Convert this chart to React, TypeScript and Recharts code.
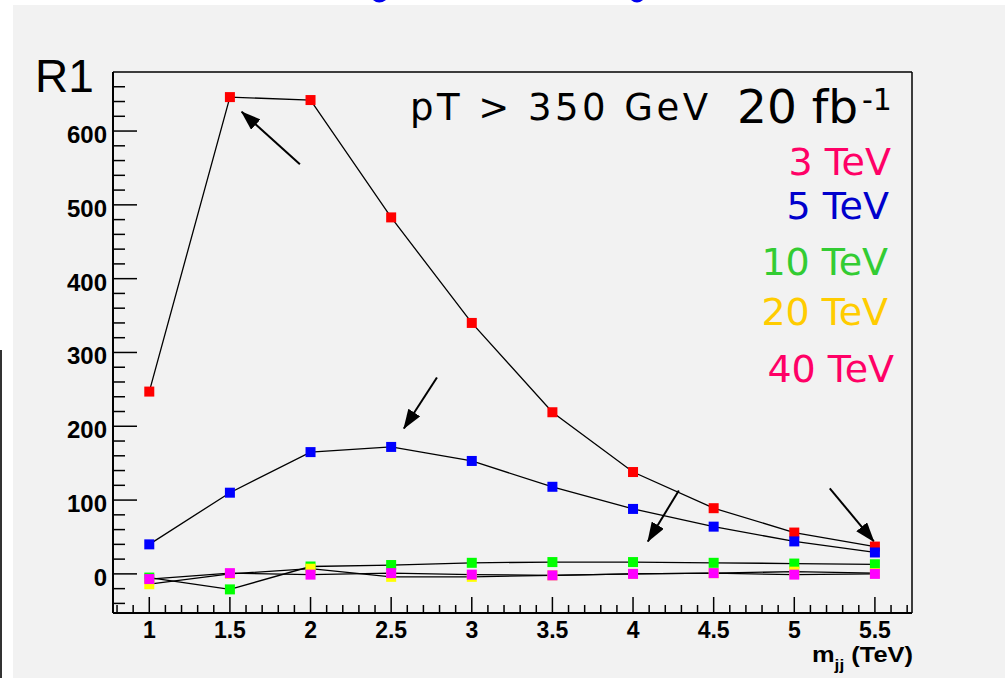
import React from 'react';
import { LineChart, Line, XAxis, YAxis, ReferenceLine } from 'recharts';

// ---- data ----
const xValues = [1, 1.5, 2, 2.5, 3, 3.5, 4, 4.5, 5, 5.5];
const tev3 = [247, 646, 642, 483, 340, 219, 138, 89, 56, 37];
const tev5 = [40, 110, 165, 172, 153, 118, 88, 64, 44, 29];
const tev10 = [-5, -21, 10, 12, 15, 16, 16, 15, 14, 13];
const tev20 = [-14, 0, 7, -4, -4, -2, 0, 1, 3, 1];
const tev40 = [-7, 1, -1, 1, -1, -2, 0, 1, -1, 0];

const seriesNames = ['3 TeV', '5 TeV', '10 TeV', '20 TeV', '40 TeV'];
const markerColors = ['#ff0000', '#0000ff', '#00ff00', '#ffff00', '#ff00ff'];
const legendColors = ['#ff0066', '#0000cc', '#33cc33', '#ffcc00', '#ff0066'];

// ---- ticks ----
const xMajorTicks = [1, 1.5, 2, 2.5, 3, 3.5, 4, 4.5, 5, 5.5];
const xAllTicks = [
  0.8, 0.9, 1, 1.1, 1.2, 1.3, 1.4, 1.5, 1.6, 1.7, 1.8, 1.9, 2, 2.1, 2.2, 2.3, 2.4, 2.5,
  2.6, 2.7, 2.8, 2.9, 3, 3.1, 3.2, 3.3, 3.4, 3.5, 3.6, 3.7, 3.8, 3.9, 4, 4.1, 4.2, 4.3,
  4.4, 4.5, 4.6, 4.7, 4.8, 4.9, 5, 5.1, 5.2, 5.3, 5.4, 5.5, 5.6, 5.7,
];
const yMajorTicks = [0, 100, 200, 300, 400, 500, 600];
const yAllTicks = [
  -40, -20, 0, 20, 40, 60, 80, 100, 120, 140, 160, 180, 200, 220, 240, 260, 280, 300,
  320, 340, 360, 380, 400, 420, 440, 460, 480, 500, 520, 540, 560, 580, 600, 620, 640, 660,
];
const xDomain = [0.775, 5.73];
const yDomain = [-53, 680];

// arrows (tail -> head) in data coordinates
const arrows = [
  [{ x: 1.934, y: 555 }, { x: 1.573, y: 626 }],
  [{ x: 2.784, y: 266 }, { x: 2.579, y: 197 }],
  [{ x: 4.284, y: 113 }, { x: 4.092, y: 44 }],
  [{ x: 5.22, y: 116 }, { x: 5.493, y: 44 }],
];

const seriesValues = [tev3, tev5, tev10, tev20, tev40];
const keys = ['s3', 's5', 's10', 's20', 's40'];
const data = xValues.map((x, i) => {
  const row: Record<string, number> = { x };
  keys.forEach((k, j) => (row[k] = seriesValues[j][i]));
  return row;
});

const isMajor = (v: number, list: number[]) => list.some((m) => Math.abs(m - v) < 1e-6);

const XTick = (props: any) => {
  const { x, y, payload } = props;
  const major = isMajor(payload.value, xMajorTicks);
  return (
    <g>
      <line x1={x} y1={y} x2={x} y2={y - (major ? 16 : 8)} stroke="#000" strokeWidth={1.5} />
      {major && (
        <text
          x={x}
          y={y + 25}
          textAnchor="middle"
          fontFamily="'Liberation Sans', Arial, sans-serif"
          fontWeight="bold"
          fontSize={23}
          fill="#000"
        >
          {String(payload.value)}
        </text>
      )}
    </g>
  );
};

const YTick = (props: any) => {
  const { x, y, payload } = props;
  const major = isMajor(payload.value, yMajorTicks);
  return (
    <g>
      <line x1={x} y1={y} x2={x + (major ? 24 : 12)} y2={y} stroke="#000" strokeWidth={1.5} />
      {major && (
        <text
          x={x - 6}
          y={y + 12}
          textAnchor="end"
          fontFamily="'Liberation Sans', Arial, sans-serif"
          fontWeight="bold"
          fontSize={24}
          fill="#000"
        >
          {String(payload.value)}
        </text>
      )}
    </g>
  );
};

const makeDot = (color: string) => (props: any) => {
  const { cx, cy, index } = props;
  if (cx == null || cy == null) return <g key={index} />;
  return <rect key={index} x={cx - 5} y={cy - 5} width={10} height={10} fill={color} />;
};

export default function App() {
  const legendY = [175, 219, 275, 325, 382];
  const legendX = [891, 889, 888, 888, 894];
  return (
    <div
      style={{
        position: 'fixed',
        left: 0,
        top: 0,
        width: 1005,
        height: 678,
        background: '#f2f2f2',
        overflow: 'hidden',
      }}
    >
      <svg width={0} height={0} style={{ position: 'absolute' }}>
        <defs>
          <marker
            id="arrowhead"
            markerUnits="userSpaceOnUse"
            markerWidth={20}
            markerHeight={14}
            viewBox="0 0 20 14"
            refX={19}
            refY={7}
            orient="auto"
          >
            <path d="M0,0 L20,7 L0,14 z" fill="#000" />
          </marker>
        </defs>
      </svg>
      <LineChart
        width={1005}
        height={678}
        data={data}
        margin={{ top: 72, right: 93, bottom: 35, left: 53 }}
      >
        <XAxis
          type="number"
          dataKey="x"
          domain={xDomain}
          allowDataOverflow
          ticks={xAllTicks}
          interval={0}
          height={30}
          tickSize={0}
          tickMargin={0}
          axisLine={{ stroke: '#000', strokeWidth: 2 }}
          tickLine={false}
          tick={<XTick />}
        />
        <YAxis
          type="number"
          domain={yDomain}
          allowDataOverflow
          ticks={yAllTicks}
          interval={0}
          width={60}
          tickSize={0}
          tickMargin={0}
          axisLine={{ stroke: '#000', strokeWidth: 2 }}
          tickLine={false}
          tick={<YTick />}
        />
        <ReferenceLine y={yDomain[1]} stroke="#000" strokeWidth={1.5} />
        <ReferenceLine x={xDomain[1]} stroke="#000" strokeWidth={1.5} />
        {keys.map((k, j) => (
          <Line
            key={k}
            dataKey={k}
            name={seriesNames[j]}
            stroke="#000"
            strokeWidth={1.3}
            dot={makeDot(markerColors[j])}
            activeDot={false}
            isAnimationActive={false}
            type="linear"
          />
        ))}
        {arrows.map((seg, i) => (
          <ReferenceLine
            key={'a' + i}
            segment={seg}
            stroke="#000"
            strokeWidth={2}
            markerEnd="url(#arrowhead)"
          />
        ))}
      </LineChart>
      <svg
        width={1005}
        height={678}
        style={{ position: 'absolute', left: 0, top: 0, pointerEvents: 'none' }}
      >
        <rect x={0} y={0} width={1005} height={5} fill="#ffffff" />
        <rect x={0} y={0} width={13} height={678} fill="#ffffff" />
        <rect x={0} y={350} width={2} height={328} fill="#333333" />
        <path d="M373,0 Q379,5 386,0 Z" fill="#0000ee" />
        <path d="M631,0 Q637,5 643,0 Z" fill="#0000ee" />
        <text x={35} y={92} fontFamily="'Liberation Sans', Arial, sans-serif" fontSize={46} fill="#000">
          R1
        </text>
        <text
          x={410}
          y={120}
          fontFamily="'DejaVu Sans', Verdana, sans-serif"
          fontSize={37}
          fill="#000"
          textLength={298}
          lengthAdjust="spacing"
        >
          {'pT > 350 GeV'}
        </text>
        <text x={737} y={123} fontFamily="'DejaVu Sans', Verdana, sans-serif" fontSize={47} fill="#000">
          20 fb
        </text>
        <text x={862} y={110} fontFamily="'DejaVu Sans', Verdana, sans-serif" fontSize={30} fill="#000">
          -1
        </text>
        {seriesNames.map((n, i) => (
          <text
            key={n}
            x={legendX[i]}
            y={legendY[i]}
            textAnchor="end"
            fontFamily="'DejaVu Sans', Verdana, sans-serif"
            fontSize={38}
            fill={legendColors[i]}
          >
            {n}
          </text>
        ))}
        <text
          x={812}
          y={662}
          fontFamily="'Liberation Sans', Arial, sans-serif"
          fontWeight="bold"
          fontSize={22}
          fill="#000"
          textLength={101}
          lengthAdjust="spacingAndGlyphs"
        >
          <tspan>m</tspan>
          <tspan fontSize={15} dy={8}>jj</tspan>
          <tspan dy={-8}> (TeV)</tspan>
        </text>
      </svg>
    </div>
  );
}
